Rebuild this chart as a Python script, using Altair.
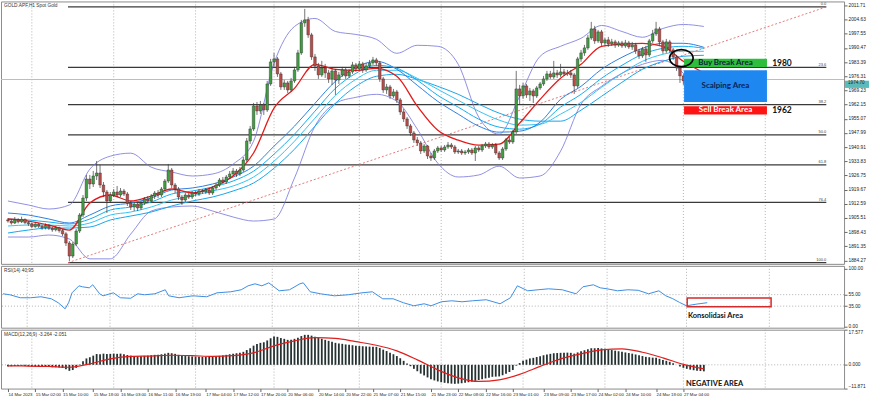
import json
import altair as alt
import pandas as pd

# ---------------- texts ----------------
TITLE_MAIN = "GOLD.APF,H1  Spot Gold"
TITLE_RSI = "RSI(14) 40.95"
TITLE_MACD = "MACD(12,26,9) -3.264 -2.051"

TIME_LABELS = ["14 Mar 2023", "15 Mar 02:00", "15 Mar 10:00", "15 Mar 18:00", "16 Mar 03:00",
               "16 Mar 11:00", "16 Mar 19:00", "17 Mar 04:00", "17 Mar 12:00", "17 Mar 20:00",
               "20 Mar 06:00", "20 Mar 14:00", "20 Mar 22:00", "21 Mar 07:00", "21 Mar 15:00",
               "21 Mar 23:00", "22 Mar 08:00", "22 Mar 16:00", "23 Mar 01:00", "23 Mar 09:00",
               "23 Mar 17:00", "24 Mar 02:00", "24 Mar 10:00", "24 Mar 18:00", "27 Mar 04:00"]
TIME_TICK_IDX = [0, 8, 16, 25, 33, 41, 49, 58, 66, 74, 82, 91, 99, 107, 115, 124, 132, 140,
                 148, 157, 165, 173, 181, 190, 198]
DAY_GRID_IDX = [7, 31, 55, 78, 103, 127, 151, 175, 198, 222]

PRICE_TICKS = [2011.71, 2004.63, 1997.55, 1990.47, 1983.39, 1976.31, 1969.23, 1962.15, 1955.07,
               1947.99, 1940.91, 1933.83, 1926.75, 1919.67, 1912.59, 1905.51, 1898.43, 1891.35, 1884.27]
RSI_TICKS = [100.0, 55.0, 35.0, 0.0]
MACD_TICKS = [17.577, 0.0, -11.871]

# ---------------- candles (H1) ----------------
OPEN_FIRST = 1904.6
CLOSE = [
    1904.0, 1903.0, 1904.6, 1903.6, 1904.8, 1903.2, 1902.6, 1901.2, 1902.4, 1901.4,
    1900.6, 1901.8, 1900.4, 1899.6, 1900.6, 1899.2, 1897.6, 1893.0, 1886.5, 1892.5,
    1899.0, 1907.0, 1915.5, 1925.0, 1922.5, 1926.5, 1928.0, 1922.0, 1918.5, 1914.0,
    1917.0, 1918.5, 1917.0, 1919.0, 1917.5, 1913.0, 1911.0, 1912.5, 1910.5, 1913.0,
    1915.0, 1914.0, 1916.5, 1918.0, 1917.0, 1920.0, 1924.0, 1929.5, 1922.0, 1920.0,
    1916.0, 1914.5, 1917.0, 1916.0, 1918.0, 1917.5, 1919.0, 1918.5, 1919.5, 1918.0,
    1920.5, 1922.0, 1924.5, 1923.5, 1926.0, 1927.5, 1929.0, 1927.5, 1929.5, 1934.5,
    1944.0, 1950.0, 1961.5, 1959.0, 1962.0, 1959.5, 1972.5, 1983.5, 1985.0, 1977.5,
    1971.0, 1973.0, 1969.5, 1974.0, 1979.5, 1988.0, 2003.0, 2004.5, 1997.0, 1986.0,
    1981.5, 1977.0, 1980.5, 1978.0, 1975.0, 1979.0, 1974.5, 1977.0, 1979.5, 1976.5,
    1978.5, 1982.0, 1980.0, 1982.5, 1979.5, 1981.5, 1983.0, 1984.5, 1983.0, 1975.0,
    1969.5, 1971.0, 1966.5, 1968.5, 1964.5, 1958.5, 1955.0, 1951.5, 1948.0, 1944.5,
    1943.0, 1939.0, 1941.5, 1936.5, 1935.5, 1939.0, 1940.5, 1939.5, 1941.0, 1942.0,
    1941.0, 1938.5, 1939.0, 1938.0, 1938.5, 1939.5, 1938.0, 1940.5, 1939.5, 1941.5,
    1942.5, 1941.0, 1942.0, 1938.0, 1935.5, 1940.0, 1944.5, 1943.5, 1948.5, 1970.0,
    1966.5, 1971.5, 1967.0, 1969.0, 1966.5, 1970.5, 1972.5, 1975.0, 1977.5, 1976.0,
    1978.0, 1977.0, 1978.5, 1977.5, 1978.0, 1977.0, 1971.5, 1985.0, 1988.0, 1990.5,
    1995.5, 2000.0, 1994.0, 1998.5, 1993.0, 1994.5, 1992.5, 1993.5, 1992.0, 1993.0,
    1991.5, 1993.0, 1991.0, 1992.0, 1989.0, 1986.5, 1990.0, 1987.0, 1994.0, 1997.5,
    2000.0, 1993.5, 1989.0, 1993.5, 1989.5, 1986.0, 1980.5, 1976.5, 1974.0, 1975.5,
    1973.5, 1974.5, 1973.0, 1975.5, 1974.7]
HIGH = [
    1905.5, 1905.0, 1906.0, 1905.4, 1906.2, 1905.3, 1904.0, 1903.2, 1903.5, 1903.0,
    1902.2, 1902.8, 1902.4, 1901.2, 1901.6, 1901.2, 1900.0, 1898.5, 1894.0, 1893.5,
    1900.0, 1908.0, 1917.0, 1927.0, 1927.0, 1929.0, 1934.0, 1932.0, 1923.5, 1919.5,
    1918.5, 1920.0, 1921.5, 1920.5, 1920.0, 1918.5, 1914.0, 1913.5, 1913.5, 1914.0,
    1916.0, 1916.5, 1917.5, 1919.0, 1919.5, 1921.0, 1925.0, 1932.5, 1930.5, 1923.0,
    1921.0, 1917.0, 1918.0, 1918.0, 1919.0, 1919.0, 1920.0, 1920.0, 1920.5, 1920.5,
    1921.5, 1923.0, 1925.5, 1926.0, 1927.0, 1929.0, 1930.5, 1930.0, 1931.0, 1936.0,
    1945.5, 1951.5, 1963.0, 1963.5, 1964.0, 1963.0, 1974.0, 1985.0, 1988.0, 1986.0,
    1978.5, 1974.5, 1974.0, 1975.5, 1981.0, 1989.5, 2004.5, 2010.0, 2006.0, 1998.0,
    1987.5, 1983.0, 1984.0, 1982.5, 1979.5, 1980.5, 1980.0, 1978.5, 1981.0, 1980.5,
    1980.0, 1983.5, 1983.0, 1984.0, 1983.5, 1983.0, 1984.5, 1986.0, 1985.5, 1984.0,
    1976.0, 1972.5, 1972.0, 1970.0, 1969.5, 1965.5, 1960.0, 1956.0, 1952.5, 1949.0,
    1946.0, 1944.0, 1942.5, 1942.0, 1938.0, 1940.0, 1941.5, 1941.5, 1942.0, 1943.5,
    1943.0, 1942.0, 1940.0, 1940.0, 1939.5, 1940.5, 1940.5, 1941.5, 1941.5, 1942.5,
    1943.5, 1943.5, 1943.0, 1943.0, 1939.0, 1941.0, 1945.5, 1946.0, 1949.5, 1979.0,
    1972.0, 1973.0, 1972.5, 1970.5, 1970.0, 1971.5, 1973.5, 1976.5, 1979.0, 1979.0,
    1984.0, 1979.5, 1982.5, 1980.0, 1979.5, 1979.5, 1978.0, 1986.0, 1989.5, 1992.0,
    1997.0, 2003.5, 2001.5, 1999.5, 1999.5, 1995.5, 1996.0, 1995.0, 1994.5, 1994.0,
    1994.0, 1994.5, 1994.0, 1993.5, 1993.0, 1990.0, 1991.0, 1991.5, 1995.0, 1999.5,
    2003.5, 2001.0, 1994.5, 1995.0, 1994.5, 1990.5, 1987.0, 1981.5, 1977.5, 1976.5,
    1976.5, 1979.0, 1975.5, 1976.5, 1976.5]
LOW = [
    1903.2, 1902.2, 1902.5, 1902.8, 1903.0, 1902.4, 1901.5, 1900.4, 1900.6, 1900.5,
    1899.6, 1899.8, 1899.5, 1898.6, 1898.8, 1898.2, 1896.5, 1891.5, 1884.0, 1885.5,
    1891.5, 1898.0, 1906.0, 1914.0, 1920.0, 1921.0, 1924.5, 1920.5, 1916.0, 1908.0,
    1913.0, 1916.0, 1916.0, 1916.0, 1916.5, 1911.5, 1909.5, 1909.0, 1909.0, 1909.5,
    1912.0, 1913.0, 1913.0, 1915.0, 1915.5, 1916.0, 1919.0, 1923.0, 1920.5, 1918.0,
    1914.5, 1912.0, 1913.5, 1915.0, 1915.0, 1916.5, 1916.5, 1917.5, 1917.5, 1917.0,
    1917.0, 1919.5, 1921.0, 1922.5, 1922.5, 1925.0, 1926.5, 1926.0, 1926.5, 1928.5,
    1933.5, 1942.5, 1949.0, 1957.0, 1957.5, 1957.0, 1958.5, 1971.5, 1981.0, 1976.0,
    1969.5, 1969.5, 1968.0, 1968.5, 1973.0, 1978.5, 1987.0, 2001.0, 1995.5, 1984.5,
    1979.0, 1975.0, 1976.0, 1975.5, 1973.0, 1972.0, 1967.0, 1972.5, 1976.0, 1975.0,
    1975.5, 1977.5, 1978.5, 1979.0, 1978.0, 1978.5, 1980.5, 1982.0, 1981.5, 1973.5,
    1968.0, 1967.5, 1965.0, 1965.5, 1963.0, 1957.0, 1953.5, 1950.0, 1946.5, 1943.0,
    1941.5, 1937.5, 1938.0, 1935.0, 1934.0, 1934.5, 1938.0, 1938.5, 1938.5, 1940.0,
    1940.0, 1937.5, 1937.5, 1937.0, 1937.0, 1937.5, 1937.0, 1934.0, 1938.5, 1938.5,
    1940.5, 1940.0, 1940.0, 1937.0, 1934.5, 1934.5, 1939.0, 1942.5, 1942.5, 1947.5,
    1962.0, 1965.0, 1965.5, 1964.0, 1963.0, 1965.5, 1969.5, 1971.5, 1974.0, 1975.0,
    1975.0, 1975.5, 1976.0, 1976.5, 1976.5, 1975.5, 1967.5, 1970.5, 1983.5, 1986.5,
    1989.5, 1994.5, 1992.5, 1993.0, 1991.5, 1991.5, 1991.0, 1991.5, 1990.5, 1991.0,
    1990.5, 1990.5, 1990.0, 1989.5, 1987.5, 1985.0, 1985.5, 1983.5, 1986.0, 1993.0,
    1996.5, 1992.0, 1987.5, 1988.0, 1988.0, 1984.5, 1979.0, 1973.0, 1972.0, 1972.5,
    1972.0, 1972.5, 1972.0, 1972.5, 1973.5]

# ---------------- indicator lines (read at every 6th candle) ----------------
KEY_IDX = [0, 6, 12, 18, 24, 30, 36, 42, 48, 54, 60, 66, 72, 78, 84, 90, 96, 102, 108, 114,
           120, 126, 132, 138, 144, 150, 156, 162, 168, 174, 180, 186, 192, 198, 204]
BB_UPPER = [1914.0, 1912.0, 1910.0, 1912.0, 1929.9, 1936.4, 1937.9, 1930.9, 1928.5, 1926.5,
            1927.5, 1932.4, 1943.9, 1982.8, 2001.2, 2005.2, 1998.7, 1997.2, 1994.8, 1987.8,
            1991.8, 1991.3, 1982.3, 1955.9, 1947.4, 1966.3, 1986.3, 1991.3, 1995.3, 2001.7,
            1998.7, 1995.8, 2000.2, 2002.2, 2001.2]
BB_LOWER = [1896.0, 1896.0, 1897.0, 1895.0, 1885.1, 1885.1, 1897.5, 1909.0, 1911.0, 1911.5,
            1909.0, 1906.0, 1904.0, 1905.0, 1925.5, 1951.4, 1962.8, 1965.8, 1967.3, 1963.8,
            1949.9, 1932.9, 1926.0, 1927.0, 1931.4, 1925.5, 1926.5, 1938.9, 1962.4, 1971.3,
            1977.8, 1982.3, 1984.3, 1977.8, 1966.3]
MA_RED = [1905.0, 1904.0, 1902.0, 1899.5, 1913.0, 1917.0, 1914.0, 1916.5, 1920.0, 1918.0,
          1921.0, 1926.5, 1938.0, 1960.4, 1970.3, 1982.3, 1979.8, 1979.3, 1980.3, 1976.3,
          1961.4, 1949.4, 1944.4, 1941.9, 1942.4, 1952.9, 1964.8, 1975.3, 1982.3, 1991.3,
          1992.3, 1992.8, 1991.3, 1983.8, 1978.0]
MA_BLUE_1 = [1908.0, 1907.0, 1905.0, 1903.0, 1907.0, 1911.5, 1913.0, 1915.5, 1919.5, 1920.5,
             1922.5, 1926.0, 1931.4, 1941.4, 1951.4, 1962.8, 1973.8, 1980.8, 1983.8, 1979.8,
             1971.8, 1963.8, 1957.4, 1951.4, 1948.4, 1948.9, 1953.4, 1964.8, 1971.3, 1979.8,
             1985.8, 1990.3, 1992.8, 1992.8, 1990.8]
MA_BLUE_2 = [1905.0, 1904.5, 1903.5, 1902.5, 1905.0, 1909.5, 1911.0, 1913.5, 1917.5, 1919.0,
             1921.0, 1924.0, 1928.9, 1937.4, 1947.4, 1958.9, 1970.3, 1977.8, 1981.8, 1980.3,
             1974.3, 1966.8, 1960.9, 1954.9, 1950.9, 1949.9, 1952.4, 1960.9, 1967.3, 1975.3,
             1981.8, 1987.3, 1990.3, 1991.3, 1990.3]
MA_BLUE_3 = [1901.5, 1902.0, 1902.0, 1901.5, 1903.0, 1907.0, 1908.5, 1911.0, 1914.5, 1916.5,
             1919.0, 1921.5, 1926.0, 1933.9, 1943.9, 1955.4, 1966.8, 1974.8, 1979.3, 1979.3,
             1975.3, 1969.8, 1964.3, 1958.9, 1954.4, 1951.9, 1952.4, 1957.4, 1963.3, 1970.8,
             1977.8, 1983.8, 1987.3, 1988.8, 1988.8]
MA_BLUE_4 = [1898.0, 1899.5, 1900.5, 1900.5, 1901.0, 1904.5, 1906.5, 1908.5, 1911.5, 1914.0,
             1916.0, 1919.0, 1923.0, 1930.4, 1939.9, 1951.4, 1962.8, 1971.3, 1976.3, 1977.3,
             1974.8, 1971.3, 1967.3, 1962.4, 1957.9, 1954.9, 1953.9, 1953.9, 1959.4, 1966.3,
             1973.3, 1979.8, 1983.8, 1986.3, 1986.8]

# ---------------- RSI ----------------
RSI_IDX = [0, 2, 5, 8, 11, 14, 16, 18, 19, 20, 22, 23, 25, 26, 28, 29, 32, 34, 37, 39,
           41, 44, 47, 48, 51, 55, 59, 62, 66, 69, 71, 73, 75, 77, 80, 83, 86, 87, 89, 92,
           96, 100, 104, 107, 110, 113, 116, 119, 122, 124, 127, 130, 133, 136, 140, 144, 147, 149, 152, 155,
           158, 162, 166, 168, 171, 173, 175, 178, 181, 184, 187, 190, 192, 194, 196, 198, 201, 204]
RSI_VAL = [56.5, 54.8, 49.6, 49.6, 51.3, 47.8, 40.9, 30.4, 40.9, 58.2, 70.4, 68.7, 66.9, 72.2, 56.5, 53.0, 58.2, 49.6, 48.7, 56.5,
           54.8, 56.5, 63.5, 53.0, 49.6, 53.0, 51.3, 58.2, 60.0, 63.5, 70.4, 73.9, 70.4, 75.6, 61.7, 63.5, 73.9, 75.6, 60.0, 56.5,
           53.0, 54.8, 58.2, 60.0, 47.8, 47.8, 40.9, 35.6, 39.1, 35.6, 42.6, 44.3, 42.6, 44.3, 46.1, 39.1, 49.6, 70.4, 61.7, 63.5,
           65.2, 63.5, 56.5, 68.7, 72.2, 66.9, 65.2, 61.7, 63.5, 62.6, 56.5, 61.7, 53.0, 48.0, 41.4, 35.6, 38.6, 40.95]
RSI_LEVELS = [55.0, 35.0]

# ---------------- MACD ----------------
MACD_HIST = [
    -0.8, -0.7, -0.6, -0.6, -0.5, -0.6, -0.7, -0.8, -0.8, -0.9, -1.0, -1.0, -1.1, -1.2, -1.2, -1.3,
    -1.6, -2.2, -3.0, -2.6,
    -1.5, 0.2, 1.8, 3.2, 3.8, 4.6, 5.4, 5.3,
    5.6, 5.4, 5.5, 5.6, 5.5, 5.6, 5.3, 4.9, 4.6, 4.4, 4.2, 4.3, 4.5,
    4.6, 4.8, 5.0, 5.1, 5.3, 5.6, 6.0, 5.8, 5.5, 5.0,
    4.6, 4.4, 4.3, 4.2, 4.1, 4.1, 4.0, 4.0, 4.0, 4.1,
    4.3, 4.5, 4.7, 5.0, 5.3, 5.6, 5.8, 6.0,
    6.5, 7.4, 8.3, 9.6, 10.4, 11.0, 11.3, 12.2, 13.3, 14.2, 14.0,
    13.4, 13.0, 12.5, 12.6, 13.0, 13.6, 14.4, 15.0, 15.0, 14.6, 14.1,
    13.5, 13.0, 12.5, 12.0, 11.6, 11.0, 10.7, 10.5, 10.2, 10.0,
    9.8, 9.6, 9.4, 9.3, 9.2, 9.1, 9.1, 9.0, 8.4, 7.6,
    6.9, 6.0, 5.3, 4.4, 3.3, 2.0, 0.7, -0.7, -2.0, -3.2,
    -4.4, -5.3, -6.3, -7.2, -7.8, -8.3, -8.7, -9.0, -9.2, -9.4,
    -9.5, -9.4, -9.2, -9.0, -8.7, -8.4, -8.0, -7.6, -7.2, -6.8,
    -6.4, -6.0, -5.9, -5.8, -5.2, -4.4, -3.6, -2.6, -0.4, 0.9,
    2.0, 2.6, 3.2, 3.5, 3.9, 4.3, 4.8, 5.2, 5.5, 5.8,
    5.9, 6.0, 6.1, 6.1, 6.0, 5.6, 6.2, 6.8, 7.3, 7.8,
    8.3, 8.3, 8.4, 8.2, 8.0, 7.7, 7.4, 7.1, 6.8, 6.5,
    6.2, 5.9, 5.6, 5.2, 4.8, 4.4, 4.0, 3.8, 3.6, 3.5,
    3.0, 2.4, 2.0, 1.5, 0.8, 0.0, -0.8, -1.5, -2.0, -2.4,
    -2.7, -2.9, -3.1, -3.26]
MACD_SIGNAL = [-0.5, -0.6, -0.8, -1.2, 0.5, 3.0, 4.2, 4.4, 4.8, 4.6, 4.2, 4.6, 6.0, 9.5, 12.0,
               13.6, 13.2, 11.6, 9.8, 7.0, 2.5, -2.5, -6.5, -8.3, -7.5, -4.8, -0.8, 3.0, 5.5, 7.5,
               8.0, 6.3, 3.5, 0.2, -2.05]

# ---------------- Fibonacci & annotations ----------------
FIB_RATIOS = [0.0, 23.6, 38.2, 50.0, 61.8, 76.4, 100.0]
FIB_LOW = 1883.2
FIB_HIGH = 2010.96
FIB_FROM_IDX = 17.6
FIB_TO_IDX = 239.9
LAST_PRICE = 1974.70

ZONE_IDX = (198.2, 222.5)
BUY_ZONE = (1981.0, 1985.1)
SCALP_ZONE = (1963.5, 1979.3)
SELL_ZONE = (1957.2, 1961.4)
CIRCLE_AT = (197.4, 1985.4)
RSI_BOX = (198.2, 222.5, 33.9, 49.0)

n = len(CLOSE)
assert len(HIGH) == n and len(LOW) == n and len(MACD_HIST) == n
assert len(RSI_IDX) == len(RSI_VAL)
for arr in (BB_UPPER, BB_LOWER, MA_RED, MA_BLUE_1, MA_BLUE_2, MA_BLUE_3, MA_BLUE_4, MACD_SIGNAL):
    assert len(arr) == len(KEY_IDX)

FONT = "Liberation Sans"
AFONT = "Lato"

XS = alt.Scale(domain=[-0.578, 243.64], nice=False, zero=False)
PS = alt.Scale(domain=[1882.6, 2013.7], nice=False, zero=False)
RS = alt.Scale(domain=[-2.6, 105.2], nice=False, zero=False)
MS = alt.Scale(domain=[-11.871, 17.577], nice=False, zero=False)


def right_axis(values, fmt, flush=False):
    return alt.Axis(orient="right", values=values, format=fmt, title=None, grid=False, domain=False,
                    tickSize=3, tickColor="#666666", labelFontSize=4.8, labelFont=FONT,
                    labelColor="#222222", labelPadding=1, labelFlush=flush, labelOverlap=False)


label_expr = f"{json.dumps(TIME_LABELS)}[indexof({json.dumps(TIME_TICK_IDX)}, datum.value)]"
TIME_AXIS = alt.Axis(orient="bottom", values=TIME_TICK_IDX, labelExpr=label_expr, labelAlign="left",
                     labelBaseline="top", labelFontSize=4.3, labelFont=FONT, labelColor="#222222",
                     labelPadding=1, tickSize=3, tickColor="#666666", domain=False, grid=False,
                     labelOverlap=False, labelBound=False, title=None)
PRICE_AXIS = right_axis(PRICE_TICKS, ".2f")
RSI_AXIS = right_axis(RSI_TICKS, ".2f")
MACD_AXIS = right_axis(MACD_TICKS, ".3f", flush=True)


class Panel:
    """Encoding helpers for one panel: every layer uses the same axis spec."""

    def __init__(self, yscale, yaxis, xaxis=None):
        self.yscale, self.yaxis, self.xaxis = yscale, yaxis, xaxis

    def X(self, field="i"):
        return alt.X(f"{field}:Q", scale=XS, axis=self.xaxis, title=None)

    def Y(self, field):
        return alt.Y(f"{field}:Q", scale=self.yscale, axis=self.yaxis, title=None)

    def grid(self):
        return alt.Chart(pd.DataFrame({"i": DAY_GRID_IDX})).mark_rule(
            color="#a0a0a0", strokeDash=[1, 2], strokeWidth=0.8).encode(x=self.X())

    def title(self, text):
        return alt.Chart(pd.DataFrame({"t": [text]})).mark_text(
            align="left", baseline="middle", fontSize=4.8, font=FONT, color="#333333"
        ).encode(x=alt.value(3), y=alt.value(5), text="t:N")

    def label(self, text, i, v, color, size, align="center"):
        return alt.Chart(pd.DataFrame({"i": [i], "v": [v], "t": [text]})).mark_text(
            align=align, baseline="middle", fontSize=size, font=AFONT, fontWeight="bold", color=color
        ).encode(x=self.X(), y=self.Y("v"), text="t:N")

    def rect(self, x0, x1, y0, y1, **mark):
        df = pd.DataFrame({"x0": [x0], "x1": [x1], "y0": [y0], "y1": [y1]})
        return alt.Chart(df).mark_rect(**mark).encode(
            x=self.X("x0"), x2="x1:Q", y=self.Y("y0"), y2="y1:Q")


# ---------------- main panel ----------------
P = Panel(PS, PRICE_AXIS)
candles = pd.DataFrame({"i": list(range(n)), "open": [OPEN_FIRST] + CLOSE[:-1],
                        "high": HIGH, "low": LOW, "close": CLOSE})

fib_df = pd.DataFrame({
    "label": [f"{r:.1f}" for r in FIB_RATIOS],
    "price": [FIB_HIGH - r / 100.0 * (FIB_HIGH - FIB_LOW) for r in FIB_RATIOS],
    "x0": FIB_FROM_IDX, "x1": FIB_TO_IDX})
fib_rules = alt.Chart(fib_df).mark_rule(color="#3a3a3a", strokeWidth=1.2).encode(
    x=P.X("x0"), x2="x1:Q", y=P.Y("price"))
fib_text = alt.Chart(fib_df).mark_text(align="right", baseline="bottom", dy=-0.5, fontSize=4,
                                       font=FONT, color="#444444").encode(
    x=P.X("x1"), y=P.Y("price"), text="label:N")
diag = alt.Chart(pd.DataFrame({"i": [FIB_FROM_IDX, FIB_TO_IDX], "v": [FIB_LOW, FIB_HIGH]})).mark_line(
    color="#E46A6A", strokeDash=[2, 2], strokeWidth=0.9).encode(x=P.X(), y=P.Y("v"))
last_rule = alt.Chart(pd.DataFrame({"v": [LAST_PRICE]})).mark_rule(
    color="#86D4D8", strokeWidth=1).encode(y=P.Y("v"))

line_specs = [(BB_UPPER, "#7474DC", 0.8), (BB_LOWER, "#7474DC", 0.8),
              (MA_BLUE_4, "#19A6EA", 1.0), (MA_BLUE_3, "#36C3F2", 1.0),
              (MA_BLUE_2, "#14AEEF", 1.0), (MA_BLUE_1, "#2C7FE0", 1.0),
              (MA_RED, "#E41B1B", 1.3)]
lines = [alt.Chart(pd.DataFrame({"i": KEY_IDX, "v": vals})).mark_line(
    color=c, strokeWidth=w, interpolate="monotone").encode(x=P.X(), y=P.Y("v"))
    for vals, c, w in line_specs]

wicks = alt.Chart(candles).mark_rule(color="#3a3a3a", strokeWidth=0.7).encode(
    x=P.X(), y=P.Y("low"), y2="high:Q")
bodies = alt.Chart(candles).mark_bar(size=2.6, stroke="#2a2a2a", strokeWidth=0.4).encode(
    x=P.X(), y=P.Y("open"), y2="close:Q",
    color=alt.condition("datum.close >= datum.open", alt.value("#3F9E41"), alt.value("#BC4B47")))

ELLIPSE = "M-1,0A1,0.72,0,1,0,1,0A1,0.72,0,1,0,-1,0Z"
ellipse = alt.Chart(pd.DataFrame({"i": [CIRCLE_AT[0]], "v": [CIRCLE_AT[1]]})).mark_point(
    shape=ELLIPSE, size=560, filled=False, color="#000000", strokeWidth=1.6, opacity=1).encode(
    x=P.X(), y=P.Y("v"))

# current-price tag on the right scale, sitting just under the 1976.31 tick label
tag = alt.Chart(pd.DataFrame({"hi": [LAST_PRICE - 0.6], "lo": [LAST_PRICE - 4.2]})).mark_rect(
    color="#5BBABA").encode(x=alt.value(846), x2=alt.value(870), y=P.Y("hi"), y2="lo:Q")
tag_text = alt.Chart(pd.DataFrame({"v": [LAST_PRICE], "t": [f"{LAST_PRICE:.2f}"]})).mark_text(
    align="left", baseline="middle", dy=3.6, fontSize=4.6, font=FONT, color="#0b2a2a").encode(
    x=alt.value(849), y=P.Y("v"), text="t:N")

zone_mid = (ZONE_IDX[0] + ZONE_IDX[1]) / 2
main = alt.layer(
    P.grid(), fib_rules, fib_text, diag, last_rule, *lines, wicks, bodies,
    P.rect(ZONE_IDX[0], ZONE_IDX[1], *BUY_ZONE, color="#2DBE3C"),
    P.rect(ZONE_IDX[0], ZONE_IDX[1], *SCALP_ZONE, color="#1E88F0"),
    P.rect(ZONE_IDX[0], ZONE_IDX[1], *SELL_ZONE, color="#FF1414"),
    P.label("Buy Break Area", zone_mid, sum(BUY_ZONE) / 2, "#0D1F3C", 8),
    P.label("Scalping Area", zone_mid, 1971.3, "#0A1F5C", 8),
    P.label("Sell Break Area", zone_mid, sum(SELL_ZONE) / 2, "#FFFFFF", 8),
    P.label("1980", 226.9, sum(BUY_ZONE) / 2, "#111111", 8.5),
    P.label("1962", 226.9, sum(SELL_ZONE) / 2, "#111111", 8.5),
    ellipse, tag, tag_text, P.title(TITLE_MAIN)
).properties(width=845, height=263)

# ---------------- RSI panel ----------------
R = Panel(RS, RSI_AXIS)
rsi_levels = alt.Chart(pd.DataFrame({"v": RSI_LEVELS})).mark_rule(
    color="#a0a0a0", strokeDash=[1, 2], strokeWidth=0.8).encode(y=R.Y("v"))
rsi_line = alt.Chart(pd.DataFrame({"i": RSI_IDX, "v": RSI_VAL})).mark_line(
    color="#3D8EE3", strokeWidth=1).encode(x=R.X(), y=R.Y("v"))
rsi = alt.layer(
    R.grid(), rsi_levels, rsi_line,
    R.rect(*RSI_BOX, fillOpacity=0, stroke="#D22B2B", strokeWidth=1.5),
    R.label("Konsolidasi Area", 198.4, 18.2, "#111111", 7.5, align="left"),
    R.title(TITLE_RSI)
).properties(width=845, height=62)

# ---------------- MACD panel ----------------
M = Panel(MS, MACD_AXIS, TIME_AXIS)
macd_df = pd.DataFrame({"i": list(range(n)), "v": MACD_HIST, "z": 0.0})
macd_bars = alt.Chart(macd_df).mark_bar(size=1.8, color="#263232").encode(
    x=M.X(), y=M.Y("v"), y2="z:Q")
macd_zero = alt.Chart(pd.DataFrame({"v": [0.0]})).mark_rule(
    color="#a0a0a0", strokeDash=[1, 2], strokeWidth=0.8).encode(y=M.Y("v"))
macd_signal = alt.Chart(pd.DataFrame({"i": KEY_IDX, "v": MACD_SIGNAL})).mark_line(
    color="#E01E1E", strokeWidth=1.2, interpolate="monotone").encode(x=M.X(), y=M.Y("v"))
macd = alt.layer(
    M.grid(), macd_zero, macd_bars, macd_signal,
    M.label("NEGATIVE AREA", 198.8, -9.5, "#111111", 7.5, align="left"),
    M.title(TITLE_MACD)
).properties(width=845, height=59)

chart = alt.vconcat(main, rsi, macd, spacing=2, bounds="flush").resolve_scale(
    x="independent", y="independent"
).properties(
    padding={"left": 0, "right": 0, "top": 0, "bottom": 0}, background="white"
).configure_view(stroke="#8c8c8c", strokeWidth=1)

chart.save("out.html", embed_options={"renderer": "svg", "actions": False})
